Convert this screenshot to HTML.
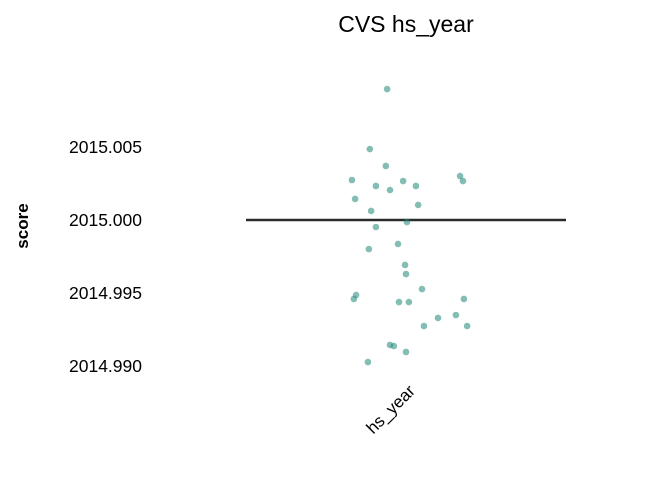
<!DOCTYPE html>
<html><head><meta charset="utf-8"><style>
html,body{margin:0;padding:0;background:#fff;}
svg{display:block;font-family:"Liberation Sans",sans-serif;}
</style></head><body>
<svg id="chart" width="672" height="480">
<text x="406" y="32" text-anchor="middle" font-size="23" fill="#000">CVS hs_year</text>
<text transform="translate(28,226) rotate(-90)" text-anchor="middle" font-size="17" font-weight="bold" fill="#000">score</text>
<g id="yticks"></g>
<g id="xticks"></g>
<g id="marks"></g>
</svg>
<script>
const categories = ["hs_year"];
const meanValues = [2015.000];
const yTicks = [2015.005, 2015.000, 2014.995, 2014.990];
const yTickLabels = ["2015.005", "2015.000", "2014.995", "2014.990"];
const scoreValues = [2015.00897,2015.00486,2015.00370,2015.00274,2015.00233,2015.00267,2015.00233,2015.00301,2015.00267,2015.00144,2015.00205,2015.00103,2015.00062,2014.99986,2014.99952,2014.99801,2014.99836,2014.99692,2014.99630,2014.99527,2014.99486,2014.99459,2014.99438,2014.99438,2014.99459,2014.99329,2014.99349,2014.99274,2014.99274,2014.99144,2014.99137,2014.99096,2014.99027];
const jitter = [-0.059,-0.113,-0.063,-0.169,-0.094,-0.009,0.031,0.169,0.178,-0.159,-0.050,0.038,-0.109,0.003,-0.094,-0.116,-0.025,-0.003,0.000,0.050,-0.156,-0.163,-0.022,0.009,0.181,0.100,0.156,0.056,0.191,-0.050,-0.038,0.000,-0.119];

const ns="http://www.w3.org/2000/svg";
const y0=220, pxPerUnit=14600;
function yScale(v){return y0-(v-2015)*pxPerUnit;}
const bandLeft=246, bandWidth=320;
function xScale(i){return bandLeft+bandWidth*(i+0.5);}

const yg=document.getElementById('yticks');
yTicks.forEach((t,i)=>{
  const el=document.createElementNS(ns,'text');
  el.setAttribute('x',142);el.setAttribute('y',yScale(t)+6);
  el.setAttribute('text-anchor','end');el.setAttribute('font-size','17.5');
  el.textContent=yTickLabels[i];
  
  
  yg.appendChild(el);
});
const xg=document.getElementById('xticks');
categories.forEach((c,i)=>{
  const el=document.createElementNS(ns,'text');
  const cx=xScale(i);
  el.setAttribute('transform',`translate(${cx+10},${392}) rotate(-45)`);
  el.setAttribute('text-anchor','end');el.setAttribute('font-size','17');
  el.textContent=c;
  
  
  xg.appendChild(el);
});
const mg=document.getElementById('marks');
meanValues.forEach((m,i)=>{
  const l=document.createElementNS(ns,'line');
  l.setAttribute('x1',bandLeft+bandWidth*i);l.setAttribute('x2',bandLeft+bandWidth*(i+1));
  l.setAttribute('y1',yScale(m));l.setAttribute('y2',yScale(m));
  l.setAttribute('stroke','#2b2b2b');l.setAttribute('stroke-width','2.5');
  
  
  mg.appendChild(l);
});
scoreValues.forEach((v,k)=>{
  const c=document.createElementNS(ns,'circle');
  c.setAttribute('cx',xScale(0)+jitter[k]*bandWidth);
  c.setAttribute('cy',yScale(v));
  c.setAttribute('r','3.3');
  c.setAttribute('fill','#1f8677');c.setAttribute('fill-opacity','0.55');
  
  
  mg.appendChild(c);
});
</script>
</body></html>
